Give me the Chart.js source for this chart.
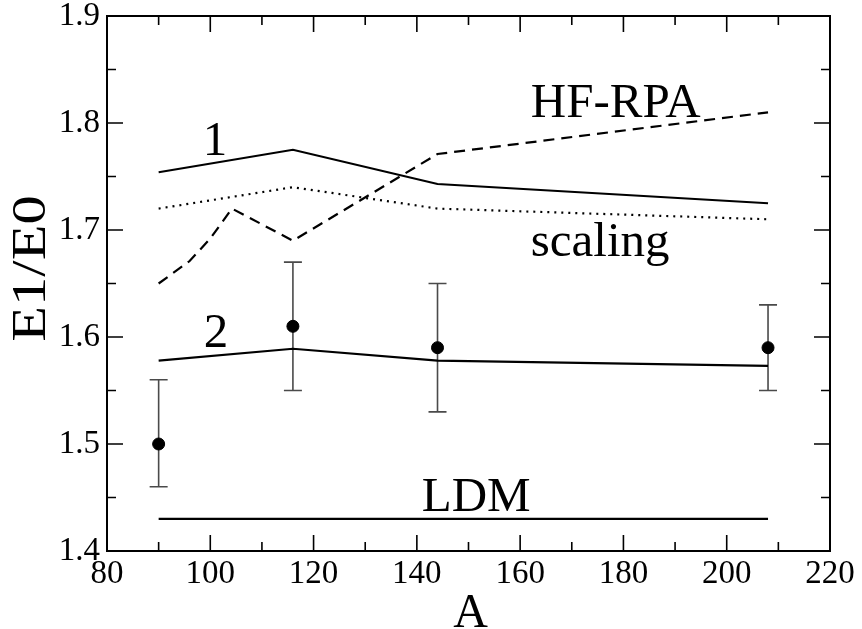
<!DOCTYPE html>
<html>
<head>
<meta charset="utf-8">
<script src="https://cdn.jsdelivr.net/npm/chart.js@4.4.1/dist/chart.umd.min.js"></script>
<style>
  html, body { margin: 0; padding: 0; background: #fff; }
  #wrap { width: 862px; height: 629px; }
</style>
</head>
<body>
<div id="wrap"><canvas id="myChart" width="862" height="629"></canvas></div>
<script>
// Data
const massA = [90, 116, 144, 208];
const curve1 = [1.754, 1.775, 1.743, 1.725];
const curve2 = [1.578, 1.589, 1.578, 1.573];
const scaling = [1.720, 1.740, 1.720, 1.710];
const hfrpaA = [90, 96, 100, 104.2, 116, 144, 208];
const hfrpa = [1.650, 1.671, 1.692, 1.720, 1.690, 1.771, 1.810];
const ldmA = [90, 208];
const ldm = [1.43, 1.43];
const expVal = [1.50, 1.61, 1.59, 1.59];
const expLow = [1.46, 1.55, 1.53, 1.55];
const expHigh = [1.56, 1.67, 1.65, 1.63];
const xTicks = [80, 100, 120, 140, 160, 180, 200, 220];
const yTicks = [1.4, 1.5, 1.6, 1.7, 1.8, 1.9];

// text labels inside the plot: [text, A, E1/E0]
const notes = [
    ['HF-RPA', 178.5, 1.806],
    ['1', 100.9, 1.770],
    ['scaling', 175.5, 1.676],
    ['2', 101.1, 1.591],
    ['LDM', 151.5, 1.437]
];

const serif = "'Liberation Serif', 'DejaVu Serif', serif";

function pts(xs, ys) {
    return xs.map(function (x, i) { return { x: x, y: ys[i] }; });
}

// Frame, inward ticks, error bars, titles and labels
const decorPlugin = {
    id: 'decor',
    beforeDatasetsDraw: function (chart) {
        const c = chart.ctx;
        const xs = chart.scales.x;
        const ys = chart.scales.y;

        // error bars
        c.save();
        c.strokeStyle = '#4a4a4a';
        c.lineWidth = 1.6;
        for (let i = 0; i < massA.length; i++) {
            const px = xs.getPixelForValue(massA[i]);
            const lo = ys.getPixelForValue(expLow[i]);
            const hi = ys.getPixelForValue(expHigh[i]);
            c.beginPath();
            c.moveTo(px, lo); c.lineTo(px, hi);
            c.moveTo(px - 9, lo); c.lineTo(px + 9, lo);
            c.moveTo(px - 9, hi); c.lineTo(px + 9, hi);
            c.stroke();
        }
        c.restore();
    },
    afterDraw: function (chart) {
        const c = chart.ctx;
        const xs = chart.scales.x;
        const ys = chart.scales.y;
        const a = chart.chartArea;
        c.save();
        c.strokeStyle = '#000';
        c.lineWidth = 2;
        c.strokeRect(a.left, a.top, a.right - a.left, a.bottom - a.top);

        c.lineWidth = 1.6;
        c.beginPath();
        // x ticks, bottom and top
        for (let v = 80; v <= 220; v += 10) {
            const px = xs.getPixelForValue(v);
            const len = (v % 20 === 0) ? 16 : 9;
            c.moveTo(px, a.bottom); c.lineTo(px, a.bottom - len);
            c.moveTo(px, a.top); c.lineTo(px, a.top + len);
        }
        // y ticks, left and right
        for (let k = 0; k <= 10; k++) {
            const v = 1.4 + k * 0.05;
            const py = ys.getPixelForValue(v);
            const len = (k % 2 === 0) ? 16 : 9;
            c.moveTo(a.left, py); c.lineTo(a.left + len, py);
            c.moveTo(a.right, py); c.lineTo(a.right - len, py);
        }
        c.stroke();

        c.fillStyle = '#000';
        c.textAlign = 'center';
        c.textBaseline = 'alphabetic';

        // axis titles
        c.font = '48px ' + serif;
        c.fillText('A', (a.left + a.right) / 2 + 2, 627);
        c.save();
        c.translate(45, (a.top + a.bottom) / 2 - 15);
        c.rotate(-Math.PI / 2);
        c.scale(1.22, 1);
        c.fillText('E1/E0', 0, 0);
        c.restore();

        // labels
        c.font = '49px ' + serif;
        notes.forEach(function (n) {
            c.fillText(n[0], xs.getPixelForValue(n[1]), ys.getPixelForValue(n[2]));
        });
        c.restore();
    }
};

const ctx = document.getElementById('myChart').getContext('2d');
const myChart = new Chart(ctx, {
    type: 'scatter',
    data: {
        datasets: [
            {
                label: 'curve 1',
                data: pts(massA, curve1),
                showLine: true,
                borderColor: '#000',
                borderWidth: 2.2,
                pointRadius: 0
            },
            {
                label: 'curve 2',
                data: pts(massA, curve2),
                showLine: true,
                borderColor: '#000',
                borderWidth: 2.2,
                pointRadius: 0
            },
            {
                label: 'scaling',
                data: pts(massA, scaling),
                showLine: true,
                borderColor: '#000',
                borderWidth: 2.2,
                borderDash: [2, 5],
                pointRadius: 0
            },
            {
                label: 'HF-RPA',
                data: pts(hfrpaA, hfrpa),
                showLine: true,
                borderColor: '#000',
                borderWidth: 2.2,
                borderDash: [11, 7],
                pointRadius: 0
            },
            {
                label: 'LDM',
                data: pts(ldmA, ldm),
                showLine: true,
                borderColor: '#000',
                borderWidth: 2.2,
                pointRadius: 0
            },
            {
                label: 'experiment',
                data: pts(massA, expVal),
                showLine: false,
                pointRadius: 6,
                pointBackgroundColor: '#000',
                pointBorderColor: '#000'
            }
        ]
    },
    options: {
        responsive: false,
        animation: false,
        layout: { padding: { top: 16, right: 32, left: 0, bottom: 0 } },
        plugins: {
            legend: { display: false },
            tooltip: { enabled: false }
        },
        scales: {
            x: {
                type: 'linear',
                min: 80,
                max: 220,
                afterBuildTicks: function (s) { s.ticks = xTicks.map(function (v) { return { value: v }; }); },
                afterFit: function (s) {
                    s.height = 78;
                    s.paddingLeft = 0;
                    s.paddingRight = 0;
                },
                grid: { display: false, drawTicks: false },
                border: { display: false },
                ticks: {
                    color: '#000',
                    padding: 4,
                    maxRotation: 0,
                    font: { family: serif, size: 33 }
                }
            },
            y: {
                type: 'linear',
                min: 1.4,
                max: 1.9,
                afterBuildTicks: function (s) { s.ticks = yTicks.map(function (v) { return { value: v }; }); },
                afterFit: function (s) {
                    s.width = 107;
                    s.paddingTop = 0;
                    s.paddingBottom = 0;
                },
                grid: { display: false, drawTicks: false },
                border: { display: false },
                ticks: {
                    color: '#000',
                    padding: 7,
                    font: { family: serif, size: 33 },
                    callback: function (v) { return v.toFixed(1); }
                }
            }
        }
    },
    plugins: [decorPlugin]
});
</script>
</body>
</html>
